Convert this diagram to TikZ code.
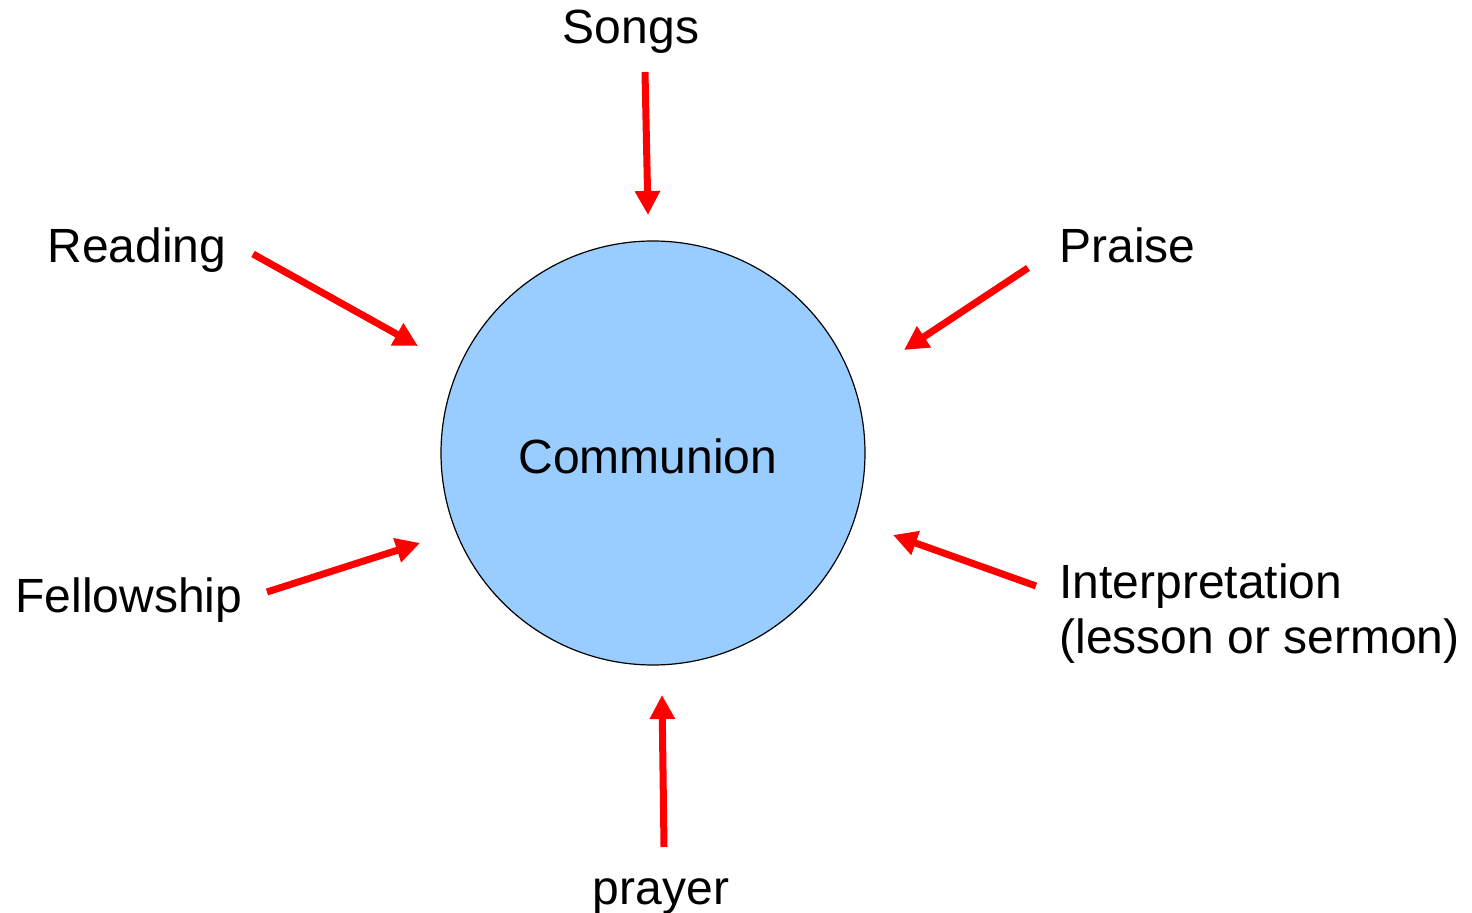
\documentclass[tikz,border=0pt]{standalone}
\usepackage{fontspec}
\setmainfont{Liberation Sans}
\usetikzlibrary{arrows.meta}
\definecolor{circfill}{HTML}{99CCFF}
\definecolor{arrred}{HTML}{FF0000}
\begin{document}
\begin{tikzpicture}[x=0.5pt,y=-0.5pt,
  lbl/.style={font=\fontsize{24pt}{28pt}\selectfont, inner sep=0pt},
  feed/.style={draw=arrred, line width=3.5pt, -{Triangle[length=12pt,width=12pt]}}]
\useasboundingbox (0,0) rectangle (1472,913);
\node[draw=black, line width=0.6pt, fill=circfill, circle, minimum size=212pt, inner sep=0pt] (c) at (653,453) {};
\node[lbl, anchor=base] (comm) at (648,474) {Communion};
\node[lbl, anchor=base] (songs) at (631,44) {Songs};
\node[lbl, anchor=base west] (reading) at (47,263) {Reading};
\node[lbl, anchor=base west] (praise) at (1059,263) {Praise};
\node[lbl, anchor=base west] (fellow) at (15,613) {Fellowship};
\node[lbl, anchor=base west, align=left] (interp) at (1059,654) {Interpretation\\(lesson or sermon)};
\node[lbl, anchor=base] (prayer) at (661,904) {prayer};
\coordinate (s1) at (645,72);   \coordinate (s2) at (648,215);
\coordinate (r1) at (253,254);  \coordinate (r2) at (418,346);
\coordinate (p1) at (1028,268); \coordinate (p2) at (904,350);
\coordinate (f1) at (267,592);  \coordinate (f2) at (420,543);
\coordinate (i1) at (1036,586); \coordinate (i2) at (893,535);
\coordinate (y1) at (664,847);  \coordinate (y2) at (662,695);
\draw[feed] (s1) -- (s2);
\draw[feed] (r1) -- (r2);
\draw[feed] (p1) -- (p2);
\draw[feed] (f1) -- (f2);
\draw[feed] (i1) -- (i2);
\draw[feed] (y1) -- (y2);
\end{tikzpicture}
\end{document}
